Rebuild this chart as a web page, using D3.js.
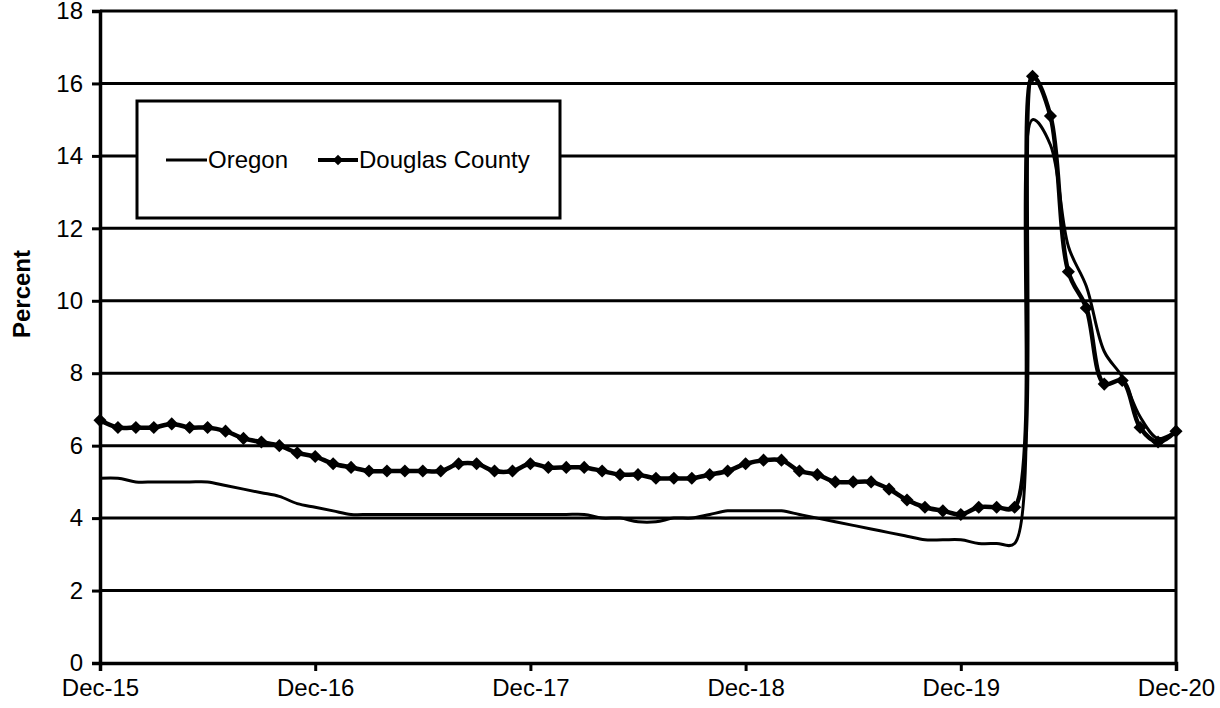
<!DOCTYPE html>
<html>
<head>
<meta charset="utf-8">
<script src="https://cdn.jsdelivr.net/npm/d3@7"></script>
<style>
  body { margin: 0; background: #fff; }
  svg { display: block; font-family: "Liberation Sans", Arial, sans-serif; }
</style>
</head>
<body>
<svg id="chart" width="1220" height="708"></svg>
<script>
// monthly, Dec-15 .. Dec-20
var oregon = [5.1, 5.1, 5.0, 5.0, 5.0, 5.0, 5.0, 4.9, 4.8, 4.7, 4.6, 4.4,
    4.3, 4.2, 4.1, 4.1, 4.1, 4.1, 4.1, 4.1, 4.1, 4.1, 4.1, 4.1,
    4.1, 4.1, 4.1, 4.1, 4.0, 4.0, 3.9, 3.9, 4.0, 4.0, 4.1, 4.2,
    4.2, 4.2, 4.2, 4.1, 4.0, 3.9, 3.8, 3.7, 3.6, 3.5, 3.4, 3.4,
    3.4, 3.3, 3.3, 3.3, 15.0, 14.3, 11.5, 10.4, 8.6, 7.9, 6.8, 6.2,
    6.4];
var douglas = [6.7, 6.5, 6.5, 6.5, 6.6, 6.5, 6.5, 6.4, 6.2, 6.1, 6.0, 5.8,
    5.7, 5.5, 5.4, 5.3, 5.3, 5.3, 5.3, 5.3, 5.5, 5.5, 5.3, 5.3,
    5.5, 5.4, 5.4, 5.4, 5.3, 5.2, 5.2, 5.1, 5.1, 5.1, 5.2, 5.3,
    5.5, 5.6, 5.6, 5.3, 5.2, 5.0, 5.0, 5.0, 4.8, 4.5, 4.3, 4.2,
    4.1, 4.3, 4.3, 4.3, 16.2, 15.1, 10.8, 9.8, 7.7, 7.8, 6.5, 6.1,
    6.4];
var xTicks = [0, 12, 24, 36, 48, 60];
var xTickLabels = ["Dec-15", "Dec-16", "Dec-17", "Dec-18", "Dec-19", "Dec-20"];
var yTicks = [0, 2, 4, 6, 8, 10, 12, 14, 16, 18];
var seriesNames = ["Oregon", "Douglas County"];

var svg = d3.select("#chart");
var plotLeft = 100, plotRight = 1176, plotTop = 11, plotBottom = 663;
var fontSize = 24;
var font = "'Liberation Sans', Arial, sans-serif";

var x = d3.scaleLinear().domain([0, 60]).range([plotLeft, plotRight]);
var y = d3.scaleLinear().domain([0, 18]).range([plotBottom, plotTop]);

// gridlines
svg.append("g")
    .selectAll("line")
    .data(yTicks.slice(1))
    .enter().append("line")
    .attr("x1", plotLeft).attr("x2", plotRight)
    .attr("y1", function(d) { return y(d); })
    .attr("y2", function(d) { return y(d); })
    .attr("stroke", "#000")
    .attr("stroke-width", 3);

// right border
svg.append("line")
    .attr("x1", plotRight).attr("x2", plotRight)
    .attr("y1", plotTop - 1.5).attr("y2", plotBottom)
    .attr("stroke", "#000").attr("stroke-width", 3);

// y axis
var yAxis = svg.append("g")
    .attr("transform", "translate(" + plotLeft + ",0)")
    .call(d3.axisLeft(y).tickValues(yTicks).tickSize(8).tickPadding(9));
yAxis.select(".domain").attr("stroke-width", 3.5);
yAxis.selectAll(".tick line").attr("stroke-width", 3);
yAxis.selectAll("text").attr("font-size", fontSize).attr("fill", "#000")
    .attr("font-family", font);

// x axis
var xAxis = svg.append("g")
    .attr("transform", "translate(0," + plotBottom + ")")
    .call(d3.axisBottom(x).tickValues(xTicks).tickSize(8).tickPadding(8)
        .tickFormat(function(d, i) { return xTickLabels[i]; }));
xAxis.select(".domain").attr("stroke-width", 3.5);
xAxis.selectAll(".tick line").attr("stroke-width", 3);
xAxis.selectAll("text").attr("font-size", fontSize).attr("fill", "#000")
    .attr("font-family", font);

// y label
svg.append("text")
    .attr("transform", "translate(30,294) rotate(-90)")
    .attr("text-anchor", "middle")
    .attr("font-size", fontSize)
    .attr("font-family", font)
    .attr("font-weight", "bold")
    .text("Percent");

var oregonLine = d3.line()
    .x(function(d, i) { return x(i); })
    .y(function(d) { return y(d); })
    .curve(d3.curveCatmullRom);

var douglasLine = d3.line()
    .x(function(d, i) { return x(i); })
    .y(function(d) { return y(d); })
    .curve(d3.curveCatmullRom);

svg.append("path")
    .datum(oregon)
    .attr("d", oregonLine)
    .attr("fill", "none")
    .attr("stroke", "#000")
    .attr("stroke-width", 3);

svg.append("path")
    .datum(douglas)
    .attr("d", douglasLine)
    .attr("fill", "none")
    .attr("stroke", "#000")
    .attr("stroke-width", 4.5);

var diamond = d3.symbol().type(d3.symbolDiamond2).size(110);

svg.append("g")
    .selectAll("path")
    .data(douglas)
    .enter().append("path")
    .attr("d", diamond)
    .attr("transform", function(d, i) { return "translate(" + x(i) + "," + y(d) + ")"; })
    .attr("fill", "#000");

// legend
var legend = svg.append("g").attr("font-family", font);
legend.append("rect")
    .attr("x", 137).attr("y", 101)
    .attr("width", 423).attr("height", 117)
    .attr("fill", "#fff")
    .attr("stroke", "#000")
    .attr("stroke-width", 3);

legend.append("line")
    .attr("x1", 166).attr("x2", 207)
    .attr("y1", 160).attr("y2", 160)
    .attr("stroke", "#000").attr("stroke-width", 3);
legend.append("text")
    .attr("x", 208).attr("y", 168)
    .attr("font-size", fontSize)
    .text(seriesNames[0]);

legend.append("line")
    .attr("x1", 318).attr("x2", 358)
    .attr("y1", 160).attr("y2", 160)
    .attr("stroke", "#000").attr("stroke-width", 4);
legend.append("path")
    .attr("d", d3.symbol().type(d3.symbolDiamond2).size(70))
    .attr("transform", "translate(338,160)")
    .attr("fill", "#000");
legend.append("text")
    .attr("x", 359).attr("y", 168)
    .attr("font-size", fontSize)
    .text(seriesNames[1]);
</script>
</body>
</html>
